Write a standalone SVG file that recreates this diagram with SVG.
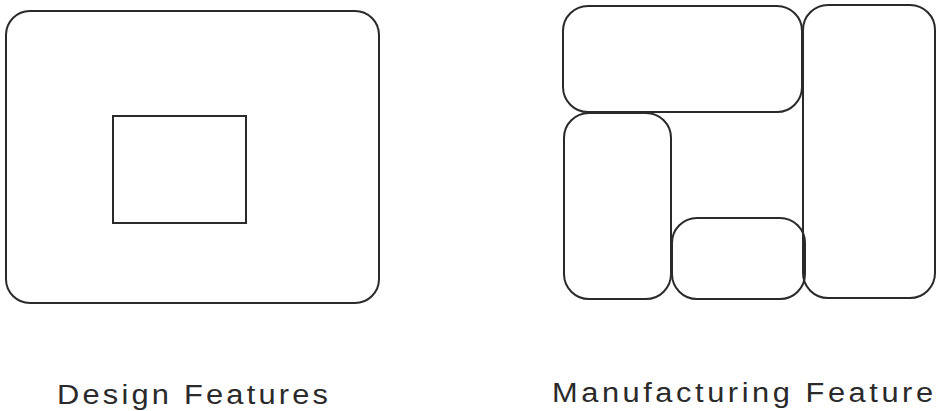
<svg xmlns="http://www.w3.org/2000/svg" width="936" height="411" viewBox="0 0 936 411">
<style>
.s{fill:none;stroke:#2a2a2a;stroke-width:2}
.t{font-family:"Liberation Sans","DejaVu Sans",sans-serif;fill:#2a2a2a;font-size:28px}
</style>
<rect width="936" height="411" fill="#ffffff"/>
<g id="design-outer"><rect class="s" x="6" y="11" width="373" height="292" rx="24" ry="24"/></g>
<g id="design-inner"><rect class="s" x="113" y="116" width="133" height="107"/></g>
<g id="mf-top"><rect class="s" x="563" y="6" width="239" height="106" rx="25" ry="25"/></g>
<g id="mf-right"><rect class="s" x="803" y="5" width="132" height="293" rx="25" ry="25"/></g>
<g id="mf-left"><rect class="s" x="564" y="113" width="107" height="186" rx="25" ry="25"/></g>
<g id="mf-bottom"><rect class="s" x="672" y="218" width="133" height="81" rx="25" ry="25"/></g>
<g id="labels">
<text class="t" transform="translate(57,404) scale(1.1,1)" x="0" y="0" textLength="246.4" lengthAdjust="spacing">Design Features</text>
<text class="t" transform="translate(552,402) scale(1.1,1)" x="0" y="0" textLength="346.4" lengthAdjust="spacing">Manufacturing Feature</text>
</g>
</svg>
